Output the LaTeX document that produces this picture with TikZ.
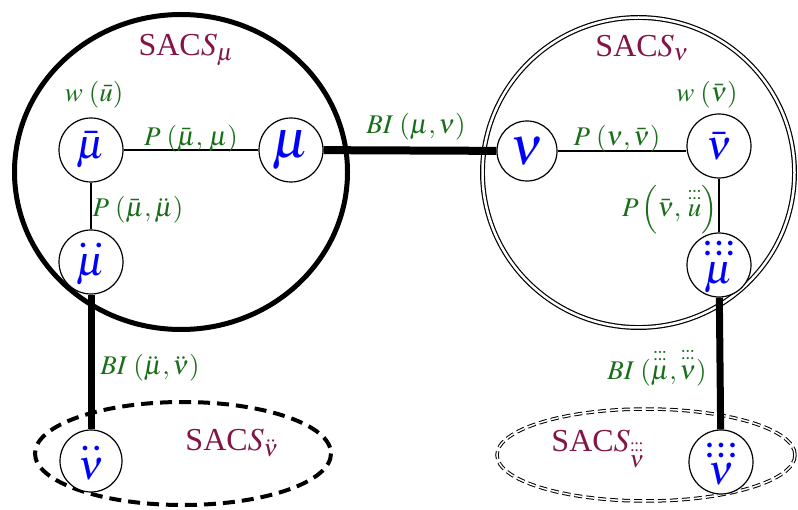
\documentclass[tikz,border=0pt]{standalone}
\usepackage{amsmath}
\usepackage{mathptmx}
\usepackage{fontspec}
\setmainfont{Liberation Serif}
\definecolor{lblgreen}{RGB}{25,110,25}
\definecolor{sacscol}{RGB}{130,20,70}
\definecolor{nodeblue}{RGB}{0,0,255}
\newcommand\sixd[1]{\overset{{:}\mkern-1mu{:}\mkern-1mu{:}}{#1}}
\newcommand\dotrowtwo[1]{\hbox{$\bullet$\hspace{#1}$\bullet$}}
\newcommand\dotrowthree{\hbox{$\bullet$\hspace{5.5pt}$\bullet$\hspace{5.5pt}$\bullet$}}
\newcommand\bdd[2]{\overset{\raisebox{-2pt}{\fontsize{12}{12}\selectfont\dotrowtwo{#1}}}{#2}}
\newcommand\bsix[1]{\overset{\raisebox{-3pt}{\fontsize{12}{12}\selectfont\vbox{\baselineskip=10pt\lineskiplimit=-20pt\dotrowthree\dotrowthree}}}{#1}}
\begin{document}
\begin{tikzpicture}[x=1pt,y=-1pt,
  vert/.style={circle,draw,fill=white,line width=1.2pt,minimum size=64pt,inner sep=0pt,text=nodeblue,font=\fontsize{42}{46}\selectfont},
  bigvert/.style={vert,font=\fontsize{54}{58}\selectfont},
  lbl/.style={text=lblgreen,font=\fontsize{27}{31}\selectfont,inner sep=0pt},
  sacslbl/.style={text=sacscol,font=\fontsize{32}{36}\selectfont,inner sep=0pt},
  thinedge/.style={line width=1.3pt},
  thickedge/.style={line width=8pt},
]
\useasboundingbox (0,0) rectangle (798,510);
% containers
\draw[line width=5pt] (181,172) ellipse [x radius=166.5, y radius=157.5];
\draw[double, line width=1.2pt, double distance=2.5pt] (638.5,172.5) ellipse [x radius=156, y radius=155];
\draw[line width=4pt, dash pattern=on 12pt off 7pt] (183,453.5) ellipse [x radius=148, y radius=51.5];
\draw[double, line width=1pt, double distance=1.5pt, dash pattern=on 8pt off 4pt] (646,455) ellipse [x radius=149, y radius=46];
% vertices
\node[vert] (mubar) at (91,150) {$\bar\mu$};
\node[bigvert] (mu) at (291,150) {$\mu$};
\node[vert] (muddot) at (91,262) {$\bdd{10pt}\mu$};
\node[bigvert,minimum size=60pt] (nu) at (527,151) {$\nu$};
\node[vert] (nubar) at (719,146) {$\bar\nu$};
\node[vert] (mutdot) at (719,265) {$\bsix\mu$};
\node[vert,minimum size=62pt] (nuddot) at (91,461) {$\bdd{6pt}\nu$};
\node[vert] (nutdot) at (721,462) {$\bsix\nu$};
% edges
\draw[thinedge] (mubar) -- (mu);
\draw[thinedge] (mubar) -- (muddot);
\draw[thinedge] (nu) -- (nubar.west|-nu);
\draw[thinedge] (nubar) -- (mutdot);
\draw[thickedge] (mu) -- (nu);
\draw[line width=7pt] (muddot) -- (nuddot);
\draw[line width=7pt] (mutdot) -- (nutdot);
% labels
\node[sacslbl] (sm) at (186,50) {SAC$S_\mu$};
\node[lbl] (wu) at (94,95) {$w\;(\bar u)$};
\node[lbl] (p1) at (191,139) {$P\;(\bar\mu,\,\mu)$};
\node[lbl] (p2) at (138,210) {$P\;(\bar\mu,\ddot\mu)$};
\node[lbl] (bi1) at (416,127) {$BI\;(\mu,\nu)$};
\node[sacslbl] (sn) at (642,48) {SAC$S_\nu$};
\node[lbl] (wv) at (707,95) {$w\;(\bar\nu)$};
\node[lbl] (p3) at (617,139) {$P\;(\nu,\bar\nu)$};
\node[lbl] (p4) at (670,210) {$P\left(\bar\nu,\,\sixd{u}\right)$};
\node[lbl] (bi2) at (150,368) {$BI\;(\ddot\mu,\ddot\nu)$};
\node[sacslbl] (s3) at (232,443) {SAC$S_{\ddot\nu}$};
\node[lbl] (bi3) at (657,367) {$BI\;(\sixd\mu,\sixd\nu)$};
\node[sacslbl] (s4) at (598,449) {SAC$S_{\sixd\nu}$};
\end{tikzpicture}
\end{document}
